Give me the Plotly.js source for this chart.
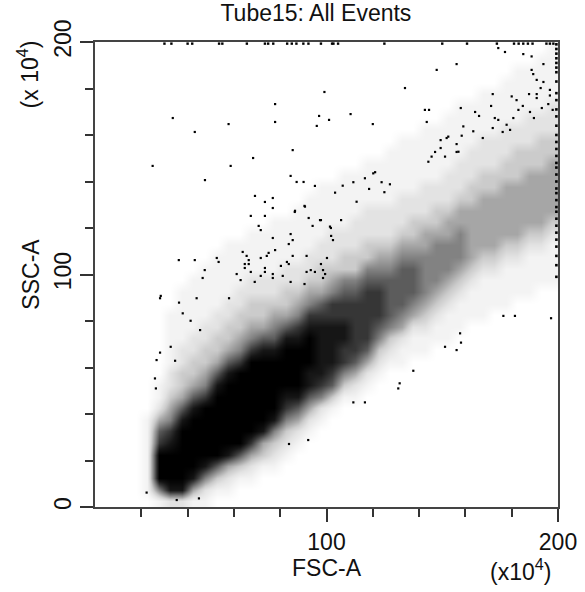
<!DOCTYPE html>
<html>
<head>
<meta charset="utf-8">
<script src="https://cdn.plot.ly/plotly-3.0.1.min.js"></script>
<style>
  html, body { margin: 0; padding: 0; background: #fff; }
  #plot { width: 585px; height: 592px; }
</style>
</head>
<body>
<div id="plot"></div>
<script>
// Event density, one entry per FSC bin of 5 (0-5 ... 195-200).
// [first SSC bin with events, levels going up in SSC bins of 5], 0 = empty, 9 = solid black
const densityByFsc = [
  [0, ''], [0, ''], [0, ''], [0, ''],
  [1, '1111111'],
  [0, '15999764211'],
  [0, '28999875432211111'],
  [0, '2899999864332211111'],
  [0, '14899999864332211111'],
  [0, '125899999754332211111'],
  [1, '136999999864332211111'],
  [1, '1248999999864332211111'],
  [2, '136999999975433221111'],
  [2, '1247999999975433221111'],
  [3, '134899999986433221111'],
  [3, '1235899999865432211111'],
  [4, '123578999986433221111'],
  [5, '124689999875432211111'],
  [6, '124688999875432211111'],
  [7, '125788888764332211111'],
  [8, '13678888775432221111'],
  [9, '13577887765332211111'],
  [9, '12467777765332221111'],
  [10, '12467777765332221111'],
  [11, '1235677765432221111'],
  [12, '1235666654322211111'],
  [12, '11245666654322211111'],
  [13, '1124566654332211111'],
  [13, '11234555544322211111'],
  [14, '1123455554332211111'],
  [14, '11123455544322211111'],
  [15, '11123455544322211111'],
  [16, '1112344444332221111'],
  [16, '11112344444332221111'],
  [17, '1112344444332221111'],
  [17, '11112344444332221111'],
  [18, '11123444443332211111'],
  [18, '11112344444332221111'],
  [19, '11123444443332211111'],
  [19, '111123444443322211111']
];

// single events away from the main population (FSC, SSC in x10^4)
const sparseFsc = [99.1, 77.8, 33.6, 57.7, 77.8, 96.8, 101.1, 95.8, 43.1, 85.4, 68.3, 24.9, 58.6, 47.5, 84.5,
  87.1, 90.1, 95, 69.1, 76.8, 73.4, 76.8, 90.5, 86.3, 67.3, 73.4, 92.3, 97.6, 101.9, 70.7, 71.6, 94, 84.5,
  102, 76.8, 85.4, 83.7, 102.8, 77.8, 63.8, 65.5, 71.6, 74.2, 75, 85.4, 91.4, 100.2, 36.2, 43.1, 52.6, 53.4,
  64.7, 66.4, 66.4, 64.7, 73.4, 82.9, 83.7, 97.6, 47.4, 61.2, 67.3, 73.4, 76.8, 80.3, 91.4, 93.2, 95, 98.5,
  99.4, 46.5, 62.9, 71.6, 76.8, 81.1, 98.5, 69, 84.5, 90.5, 28.4, 28.1, 43.9, 57.9, 28.1, 26.6, 25.9, 26.3,
  22.3, 32.7, 34.6, 37.9, 36.3, 41.3, 45.4, 35.3, 44.9,
  156.2, 147.6, 133.9, 174.2, 177.1, 185, 188.6, 193.7, 188.6, 189.3, 190.8, 193.7, 196.5, 192.5, 171.8,
  180, 182.1, 187.5, 190.8, 190.8, 196.5, 110.4, 120, 142.5, 144.3, 143.3, 158, 164.2, 165.9, 171.1, 172.7,
  174.2, 177.8, 180.7, 182.9, 184.8, 187.9, 189.6, 193, 195.8, 197.7, 159.1, 158.4, 163.4, 167.5, 171.8,
  176.1, 179.3, 151.9, 149.3, 156.2, 149.3, 156.2, 146.9,
  107, 111.6, 116.6, 121, 123.8, 127.4, 118.4, 103.7, 125, 113, 86.4, 90.7, 97.2, 106.3, 101.5, 120.2,
  145.4, 144, 151.2, 152.6, 157,
  176.4, 181.4, 197, 131, 131.6, 92.1, 83.8, 116.6, 111.6, 137.5, 156.2, 157.7, 158.1, 151.2];
const sparseSsc = [178.5, 173.3, 167.3, 164.7, 165.6, 168.2, 166.5, 163.9, 161.3, 153.5, 150.1, 146.7, 146.7,
  140.6, 142.4, 139.8, 139.8, 138.1, 133.8, 132.9, 131.2, 128.6, 129.5, 126.9, 125.2, 125.2, 124.3, 123.4,
  120, 120.9, 119.1, 120.9, 117.4, 116.6, 115.7, 114.8, 113.1, 114.8, 110.5, 109.7, 108, 107.1, 108, 109.3,
  108, 108, 107.1, 106.2, 106.2, 107.1, 105.4, 104.5, 106.2, 104.5, 102.8, 102.8, 105.4, 104.5, 104.5, 101.9,
  100.2, 101.1, 101.1, 100.2, 103.7, 101.1, 101.9, 101.1, 101.9, 100.2, 98.5, 97.6, 99.4, 98.5, 99.4, 98.5,
  96.8, 96.8, 95.9, 90.8, 89.8, 89.8, 89.8, 66.4, 63.2, 55.3, 51, 6.2, 68.9, 62.9, 83.3, 87.9, 80.1, 76.1,
  3, 3.7,
  190.5, 188, 180.2, 197.4, 195.7, 194.8, 193.8, 190.5, 188, 186.2, 183.7, 182.8, 179.4, 180.2, 177.6,
  176.6, 175, 177.6, 177.6, 175.9, 177, 169, 164.7, 170.8, 170.8, 165.6, 171.6, 169.9, 168.2, 172.5, 167.3,
  166.5, 164.4, 167.3, 170.8, 172.5, 169.9, 167.3, 171.6, 173.3, 170.8, 163.7, 159.7, 161.6, 158.7, 163,
  161.3, 162.2, 158.7, 157.8, 156.1, 154.4, 152.7, 152.7,
  138.2, 139.7, 141.4, 144, 139.7, 138.8, 136.8, 135.2, 135.4, 131.3, 127.4, 129.2, 123.4, 123.4, 120.6,
  143.5, 150.7, 148.5, 150.7, 159.3, 152.8,
  82.2, 82.2, 81.2, 51, 53.2, 28.8, 27.1, 45, 45, 58.6, 67.5, 74.7, 70.7, 68.9];

// events piled up on the top edge (SSC off scale) and on the right edge (FSC off scale)
const topEdgeFsc = [30, 33, 40, 42, 53.6, 55, 65.6, 73.4, 74.8, 77, 83, 85, 87, 90, 92.2, 97.6, 102.4, 103,
  105, 125, 150, 160.7, 173.6, 181, 183, 185, 187, 189, 195, 196.5, 198];
const rightEdgeSsc = [199, 197, 195, 193, 191, 189, 187, 183, 178, 175, 171, 168, 164, 160, 157, 154, 151,
  148, 146, 143, 140, 137, 135, 132, 129, 127, 124, 121, 118, 115, 112, 108, 104, 99];

const xTickVals = [100, 200];
const yTickVals = [0, 100, 200];
const minorTickVals = [20, 40, 60, 80, 120, 140, 160, 180];

const binWidth = 5;
const nBins = 40;
const binCenters = Array.from({length: nBins}, (_, i) => i * binWidth + binWidth / 2);

// z[ssc][fsc]
const z = binCenters.map(() => new Array(nBins).fill(0));
densityByFsc.forEach(([start, levels], xi) => {
  for (let k = 0; k < levels.length; k++) z[start + k][xi] = +levels[k];
});

const font = 'Liberation Sans, Arial, sans-serif';
const ink = '#111';

const traces = [
  {
    type: 'heatmap', x: binCenters, y: binCenters, z: z,
    zmin: 0, zmax: 9, zsmooth: 'best', showscale: false, hoverinfo: 'skip',
    colorscale: [[0, '#ffffff'], [1/9, '#f3f3f3'], [2/9, '#e3e3e3'], [3/9, '#cbcbcb'], [4/9, '#a6a6a6'],
      [5/9, '#828282'], [6/9, '#5c5c5c'], [7/9, '#363636'], [8/9, '#161616'], [1, '#000000']]
  },
  {
    type: 'scatter', mode: 'markers', x: sparseFsc, y: sparseSsc,
    marker: {symbol: 'square', size: 2.2, color: '#000'}, hoverinfo: 'skip'
  },
  {
    type: 'scatter', mode: 'markers', x: topEdgeFsc, y: topEdgeFsc.map(() => 199.3),
    marker: {symbol: 'square', size: 2.4, color: '#000'}, hoverinfo: 'skip'
  },
  {
    type: 'scatter', mode: 'markers', x: rightEdgeSsc.map(() => 199.3), y: rightEdgeSsc,
    marker: {symbol: 'square', size: 2.6, color: '#000'}, hoverinfo: 'skip'
  }
];

const axisBase = {
  range: [0, 200], showgrid: false, zeroline: false,
  showline: true, mirror: true, linecolor: '#444', linewidth: 2,
  ticks: 'outside', ticklen: 13, tickwidth: 2, tickcolor: '#333',
  tickfont: {family: font, size: 23, color: ink},
  minor: {tickmode: 'array', tickvals: minorTickVals, ticks: 'outside', ticklen: 8, tickwidth: 2, tickcolor: '#333'}
};

const layout = {
  width: 585, height: 592,
  margin: {l: 95, r: 27, t: 42, b: 85},
  paper_bgcolor: '#fff', plot_bgcolor: '#fff',
  showlegend: false,
  title: {
    text: 'Tube15: All Events', font: {family: font, size: 23, color: ink},
    x: 0.54, xanchor: 'center', y: 0.978, yanchor: 'middle', yref: 'container'
  },
  xaxis: Object.assign({}, axisBase, {
    tickmode: 'array', tickvals: xTickVals, ticktext: xTickVals.map(String),
    title: {text: 'FSC-A', font: {family: font, size: 23, color: ink}, standoff: 4}
  }),
  yaxis: Object.assign({}, axisBase, {
    tickmode: 'array', tickvals: yTickVals, ticktext: yTickVals.map(String), tickangle: -90,
    title: {text: 'SSC-A', font: {family: font, size: 23, color: ink}, standoff: 4}
  }),
  annotations: [
    {text: '(x 10<sup>4</sup>)', xref: 'paper', yref: 'paper', x: -0.145, y: 0.93,
     xanchor: 'center', yanchor: 'middle', textangle: -90, showarrow: false,
     font: {family: font, size: 23, color: ink}},
    {text: '(x10<sup>4</sup>)', xref: 'paper', yref: 'paper', x: 0.92, y: -0.136,
     xanchor: 'center', yanchor: 'middle', showarrow: false,
     font: {family: font, size: 23, color: ink}}
  ]
};

Plotly.newPlot('plot', traces, layout, {displayModeBar: false, staticPlot: true});
</script>
</body>
</html>
